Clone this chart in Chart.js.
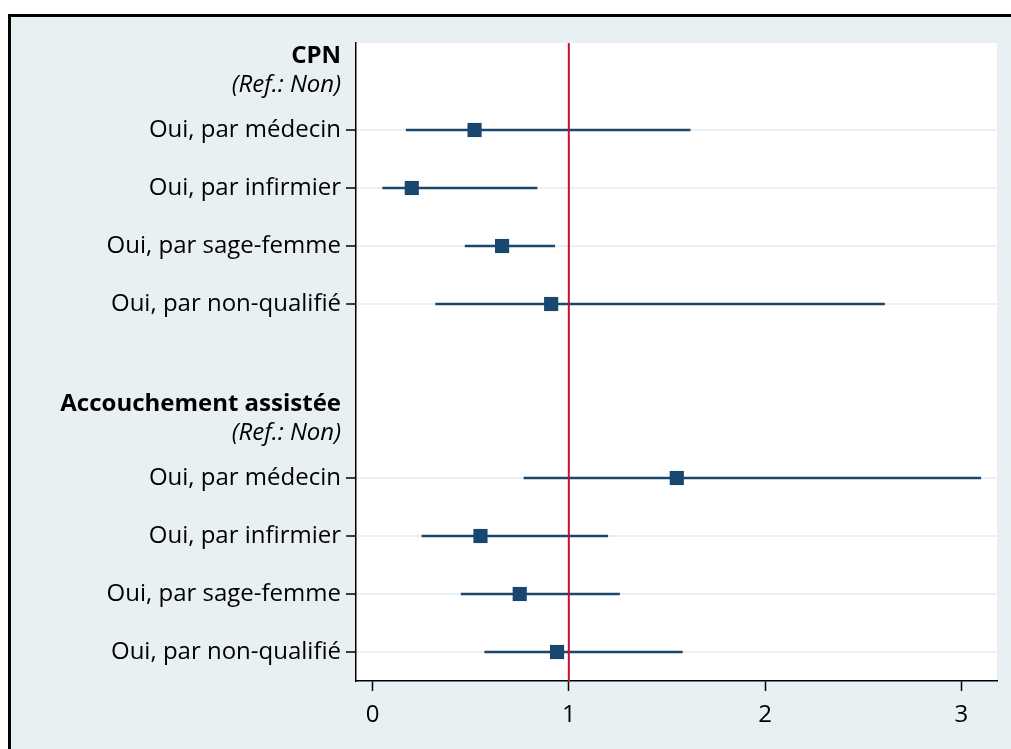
<!DOCTYPE html>
<html>
<head>
<meta charset="utf-8">
<script src="https://cdn.jsdelivr.net/npm/chart.js@4/dist/chart.umd.min.js"></script>
<style>
  html, body { margin: 0; padding: 0; background: #fff; }
  #frame {
    position: absolute; left: 8px; top: 14px; width: 1100px; height: 800px;
    background: #e8f0f3; border-top: 3px solid #000; border-left: 3px solid #000;
  }
  #wrap { position: absolute; left: 0; top: 0; width: 1011px; height: 749px; }
</style>
</head>
<body>
<div id="frame"></div>
<div id="wrap"><canvas id="chart" width="1011" height="749"></canvas></div>
<script>
// rows (y position = row index), point estimates and confidence limits
const rowLabels = [
  'Oui, par médecin', 'Oui, par infirmier', 'Oui, par sage-femme', 'Oui, par non-qualifié',
  'Oui, par médecin', 'Oui, par infirmier', 'Oui, par sage-femme', 'Oui, par non-qualifié'
];
const rowPos = [0, 1, 2, 3, 6, 7, 8, 9];
const estimates = [0.52, 0.20, 0.66, 0.91, 1.55, 0.55, 0.75, 0.94];
const lower = [0.17, 0.05, 0.47, 0.32, 0.77, 0.25, 0.45, 0.57];
const upper = [1.62, 0.84, 0.93, 2.61, 3.10, 1.20, 1.26, 1.58];

const headers = ['CPN', 'Accouchement assistée'];
const headerPos = [-1.28, 4.72];
const refLabel = '(Ref.: Non)';
const refPos = [-0.78, 5.22];

const xTicks = [0, 1, 2, 3];
const refLine = 1;

const navy = '#1a476f';
const fontFamily = '"Open Sans", "Noto Sans", sans-serif';
const fontSize = 24;

// y tick table: value -> {text, kind}
const yTickInfo = {};
rowPos.forEach((p, i) => { yTickInfo[p] = { text: rowLabels[i], kind: 'row' }; });
headerPos.forEach((p, i) => { yTickInfo[p] = { text: headers[i], kind: 'head' }; });
refPos.forEach(p => { yTickInfo[p] = { text: refLabel, kind: 'ref' }; });
const yTickValues = Object.keys(yTickInfo).map(Number).sort((a, b) => a - b);

const kindOf = ctx => (ctx.tick && yTickInfo[ctx.tick.value]) ? yTickInfo[ctx.tick.value].kind : 'row';

const ciSets = rowPos.map((p, i) => ({
  type: 'line',
  data: [{ x: lower[i], y: p }, { x: upper[i], y: p }],
  borderColor: navy,
  borderWidth: 2.5,
  pointRadius: 0,
  order: 3
}));

const plotBg = {
  id: 'plotBg',
  beforeDraw(chart) {
    const a = chart.chartArea;
    const c = chart.ctx;
    c.save();
    c.fillStyle = '#fff';
    c.fillRect(a.left, a.top, a.right - a.left, a.bottom - a.top);
    c.restore();
  }
};

new Chart(document.getElementById('chart'), {
  type: 'scatter',
  data: {
    datasets: [
      ...ciSets,
      {
        type: 'line',
        data: [{ x: refLine, y: -1.5 }, { x: refLine, y: 9.5 }],
        borderColor: '#c8102e',
        borderWidth: 2,
        pointRadius: 0,
        order: 2
      },
      {
        data: rowPos.map((p, i) => ({ x: estimates[i], y: p })),
        backgroundColor: navy,
        borderColor: navy,
        borderWidth: 0,
        pointStyle: 'rect',
        pointRadius: 10,
        order: 1
      }
    ]
  },
  options: {
    responsive: false,
    animation: false,
    layout: { padding: { left: 0, top: 43, right: 14, bottom: 0 } },
    plugins: { legend: { display: false }, tooltip: { enabled: false } },
    scales: {
      x: {
        type: 'linear',
        min: -0.084,
        max: 3.181,
        afterBuildTicks: s => { s.ticks = xTicks.map(v => ({ value: v })); },
        afterFit: s => { s.height = 68; },
        border: { color: '#000', width: 1.5 },
        grid: { drawOnChartArea: false, drawTicks: true, tickLength: 10, tickColor: '#000', tickWidth: 1.5 },
        ticks: { color: '#000', padding: 10, font: { family: fontFamily, size: fontSize } }
      },
      y: {
        type: 'linear',
        reverse: true,
        min: -1.5,
        max: 9.5,
        afterBuildTicks: s => { s.ticks = yTickValues.map(v => ({ value: v })); },
        afterFit: s => { s.width = 356; },
        border: { color: '#000', width: 1.5 },
        grid: {
          color: ctx => kindOf(ctx) === 'row' ? '#eaf0f3' : 'rgba(0,0,0,0)',
          lineWidth: 2,
          tickLength: 10,
          tickColor: ctx => kindOf(ctx) === 'row' ? '#000' : 'rgba(0,0,0,0)',
          tickWidth: 1.5
        },
        ticks: {
          color: '#000',
          padding: 5,
          autoSkip: false,
          callback: v => yTickInfo[v] ? yTickInfo[v].text : '',
          font: ctx => {
            const k = kindOf(ctx);
            if (k === 'head') return { family: fontFamily, size: fontSize, weight: 'bold' };
            if (k === 'ref') return { family: fontFamily, size: fontSize, style: 'italic' };
            return { family: fontFamily, size: fontSize };
          }
        }
      }
    }
  },
  plugins: [plotBg]
});
</script>
</body>
</html>
